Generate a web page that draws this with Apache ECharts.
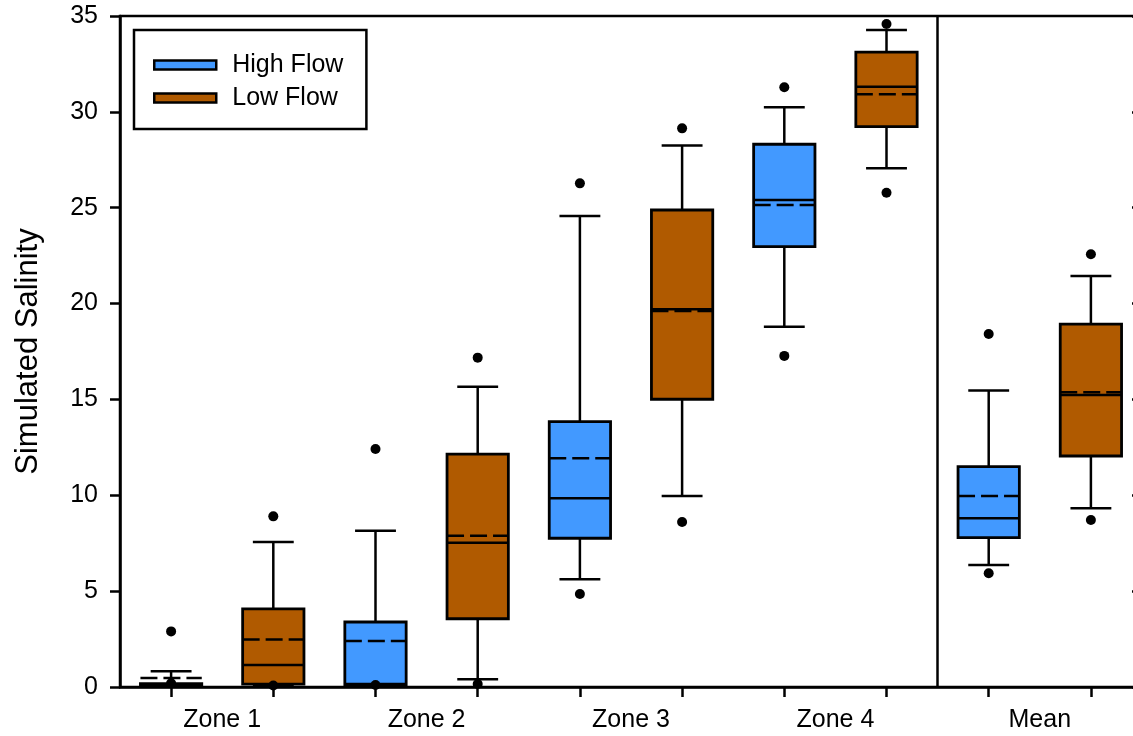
<!DOCTYPE html>
<html>
<head>
<meta charset="utf-8">
<script src="https://cdn.jsdelivr.net/npm/echarts@6/dist/echarts.min.js"></script>
<style>
html,body{margin:0;padding:0;background:#fff;}
#chart{width:1133px;height:736px;}
</style>
</head>
<body>
<div id="chart"></div>
<script>
// ---- data ----
const categories = ['Zone 1', 'Zone 2', 'Zone 3', 'Zone 4', 'Mean'];
const yTicks = [0, 5, 10, 15, 20, 25, 30, 35];
// [lower whisker, Q1, median, Q3, upper whisker]
const highFlowBox = [
  [0.05, 0.05, 0.12, 0.17, 0.82],
  [0.05, 0.12, 0.15, 3.39, 8.15],
  [5.62, 7.76, 9.84, 13.84, 24.57],
  [18.79, 22.97, 25.40, 28.31, 30.24],
  [6.36, 7.79, 8.80, 11.49, 15.46]
];
const highFlowMean = [0.47, 2.40, 11.93, 25.14, 9.96];
const highFlowOutliers = [[0.2, 2.9], [0.1, 12.41], [4.85, 26.27], [17.27, 31.28], [5.93, 18.41]];

const lowFlowBox = [
  [0.05, 0.15, 1.15, 4.07, 7.56],
  [0.40, 3.56, 7.53, 12.15, 15.66],
  [9.96, 15.01, 19.70, 24.88, 28.24],
  [27.06, 29.23, 31.31, 33.12, 34.27],
  [9.32, 12.05, 15.23, 18.93, 21.44]
];
const lowFlowMean = [2.48, 7.89, 19.61, 30.92, 15.37];
const lowFlowOutliers = [[0.08, 8.9], [0.16, 17.18], [8.61, 29.14], [25.78, 34.58], [8.71, 22.57]];

const HIGH_COLOR = '#4299ff';
const LOW_COLOR = '#b05a00';
const FONT = 'Liberation Sans';

// ---- build series data (position: group*2 + offset) ----
function boxData(box, mean, offset) {
  return box.map((b, i) => [i * 2 + offset].concat(b, [mean[i]]));
}
function outlierData(outs, offset) {
  const res = [];
  outs.forEach((o, i) => o.forEach(v => res.push([i * 2 + offset, v])));
  return res;
}

function renderBox(params, api) {
  const x = api.value(0);
  const vMin = api.value(1), q1 = api.value(2), med = api.value(3), q3 = api.value(4), vMax = api.value(5), mean = api.value(6);
  const boxW = api.size([0.6, 0])[0];
  const capW = api.size([0.4, 0])[0];
  const pMin = api.coord([x, vMin]);
  const pQ1 = api.coord([x, q1]);
  const pMed = api.coord([x, med]);
  const pQ3 = api.coord([x, q3]);
  const pMax = api.coord([x, vMax]);
  const pMean = api.coord([x, mean]);
  const cx = pMin[0];
  const ls = { stroke: '#000', lineWidth: 2.5 };
  const color = api.visual('color');
  return {
    type: 'group',
    children: [
      { type: 'line', shape: { x1: cx, y1: pQ3[1], x2: cx, y2: pMax[1] }, style: ls },
      { type: 'line', shape: { x1: cx, y1: pQ1[1], x2: cx, y2: pMin[1] }, style: ls },
      { type: 'line', shape: { x1: cx - capW / 2, y1: pMax[1], x2: cx + capW / 2, y2: pMax[1] }, style: ls },
      { type: 'line', shape: { x1: cx - capW / 2, y1: pMin[1], x2: cx + capW / 2, y2: pMin[1] }, style: ls },
      { type: 'rect', shape: { x: cx - boxW / 2, y: pQ3[1], width: boxW, height: pQ1[1] - pQ3[1] },
        style: { fill: color, stroke: '#000', lineWidth: 2.8 } },
      { type: 'line', shape: { x1: cx - boxW / 2, y1: pMed[1], x2: cx + boxW / 2, y2: pMed[1] }, style: ls },
      { type: 'line', shape: { x1: cx - boxW / 2, y1: pMean[1], x2: cx + boxW / 2, y2: pMean[1] },
        style: { stroke: '#000', lineWidth: 2.5, lineDash: [17, 6] } }
    ]
  };
}

const chart = echarts.init(document.getElementById('chart'), null, { renderer: 'canvas' });
chart.setOption({
  animation: false,
  backgroundColor: '#fff',
  textStyle: { fontFamily: FONT, color: '#000' },
  grid: { left: 120, right: -9, top: 16, bottom: 49, show: true, borderColor: '#000', borderWidth: 2.5,
    containLabel: false, outerBoundsMode: 'none' },
  legend: {
    left: 134, top: 30, orient: 'vertical', selectedMode: false,
    padding: [22, 23, 18, 19], itemGap: 7, itemWidth: 62, itemHeight: 9,
    borderColor: '#000', borderWidth: 2.5, backgroundColor: '#fff',
    icon: 'rect',
    textStyle: { fontFamily: FONT, fontSize: 25, color: '#000', lineHeight: 26, padding: [0, 0, 0, 11] },
    data: [
      { name: 'High Flow', itemStyle: { color: HIGH_COLOR, borderColor: '#000', borderWidth: 2.5 } },
      { name: 'Low Flow', itemStyle: { color: LOW_COLOR, borderColor: '#000', borderWidth: 2.5 } }
    ]
  },
  xAxis: {
    type: 'value', min: -0.5, max: 9.5,
    axisLine: { show: true, onZero: false, lineStyle: { color: '#000', width: 2.5 } },
    axisTick: { show: true, inside: false, length: 10, lineStyle: { color: '#000', width: 2.5 },
      customValues: [0, 1, 2, 3, 4, 5, 6, 7, 8, 9] },
    axisLabel: { show: true, fontFamily: FONT, fontSize: 25, color: '#000', margin: 21,
      customValues: categories.map((c, i) => i * 2 + 0.5),
      formatter: v => categories[Math.round((v - 0.5) / 2)] },
    splitLine: { show: false }
  },
  yAxis: [
    {
      type: 'value', min: 0, max: 35, interval: 5, position: 'left',
      name: 'Simulated Salinity', nameLocation: 'middle', nameRotate: 90, nameGap: 76,
      nameTextStyle: { fontFamily: FONT, fontSize: 31, color: '#000' },
      axisLine: { show: true, onZero: false, lineStyle: { color: '#000', width: 2.5 } },
      axisTick: { show: true, inside: false, length: 10, lineStyle: { color: '#000', width: 2.5 } },
      axisLabel: { fontFamily: FONT, fontSize: 25, color: '#000', margin: 22,
        formatter: v => (yTicks.indexOf(v) >= 0 ? String(v) : '') },
      splitLine: { show: false }
    },
    {
      type: 'value', min: 0, max: 35, interval: 5, position: 'right',
      axisLine: { show: true, onZero: false, lineStyle: { color: '#000', width: 2.5 } },
      axisTick: { show: true, inside: true, length: 10, lineStyle: { color: '#000', width: 2.5 } },
      axisLabel: { show: false },
      splitLine: { show: false }
    }
  ],
  series: [
    { name: 'High Flow', type: 'custom', color: HIGH_COLOR, renderItem: renderBox,
      encode: { x: 0, y: [1, 2, 3, 4, 5, 6] }, data: boxData(highFlowBox, highFlowMean, 0), z: 3 },
    { name: 'Low Flow', type: 'custom', color: LOW_COLOR, renderItem: renderBox,
      encode: { x: 0, y: [1, 2, 3, 4, 5, 6] }, data: boxData(lowFlowBox, lowFlowMean, 1), z: 3 },
    { name: 'High Flow outliers', type: 'scatter', symbol: 'circle', symbolSize: 10,
      itemStyle: { color: '#000', opacity: 1 }, data: outlierData(highFlowOutliers, 0), z: 4,
      markLine: { silent: true, symbol: 'none', label: { show: false },
        lineStyle: { color: '#000', width: 2.5, type: 'solid' },
        data: [{ xAxis: 7.5 }] } },
    { name: 'Low Flow outliers', type: 'scatter', symbol: 'circle', symbolSize: 10,
      itemStyle: { color: '#000', opacity: 1 }, data: outlierData(lowFlowOutliers, 1), z: 4 }
  ]
});
</script>
</body>
</html>
